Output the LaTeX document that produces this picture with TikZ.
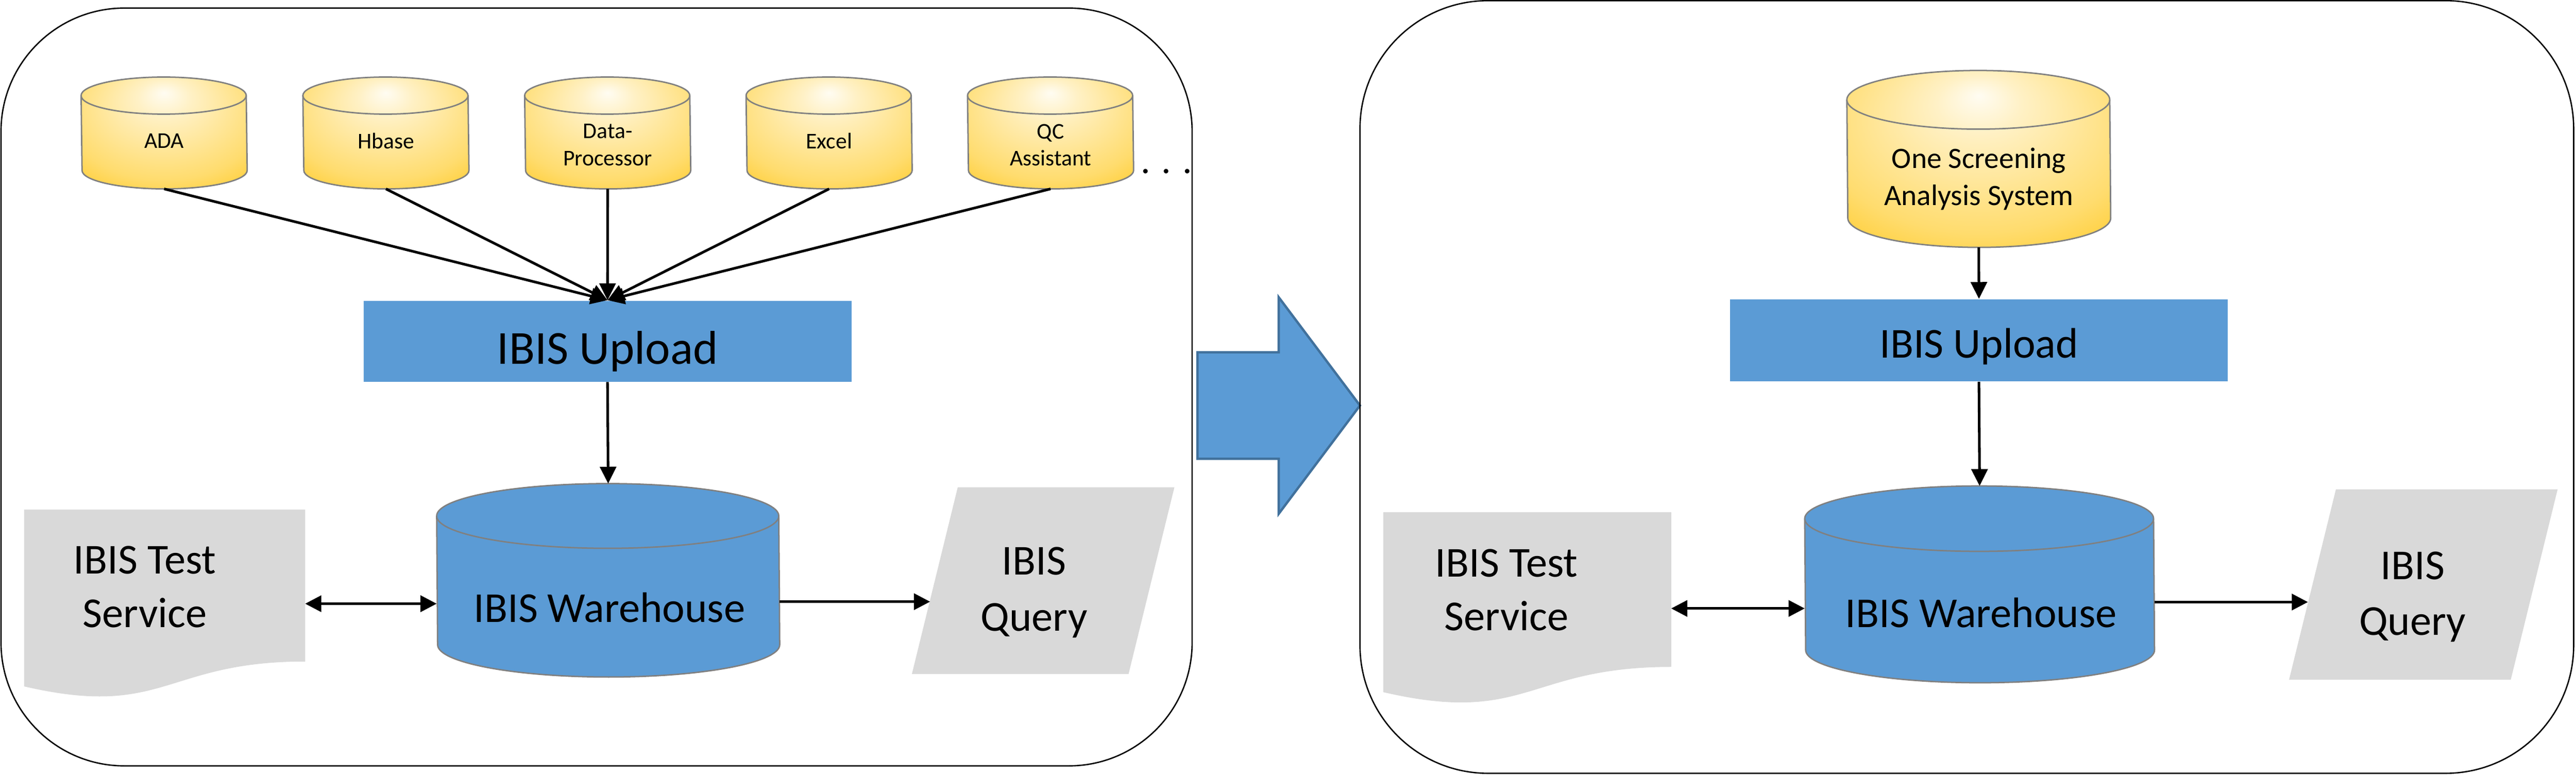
\documentclass[tikz,border=0pt]{standalone}
\usepackage{fontspec}
\setmainfont{Carlito}
\usetikzlibrary{calc}
\usetikzlibrary{shapes.geometric}
\usetikzlibrary{positioning}
\usetikzlibrary{arrows.meta}
\usetikzlibrary{backgrounds}

\definecolor{ibisblue}{HTML}{5B9BD5}
\definecolor{ibisedge}{HTML}{41719C}
\definecolor{docgray}{HTML}{D9D9D9}
\definecolor{cylrim}{HTML}{808080}
\definecolor{goldhi}{HTML}{FFFCF2}
\definecolor{goldpale}{HTML}{FFF1C6}
\definecolor{goldmid}{HTML}{FFDC6E}
\definecolor{goldlo}{HTML}{FFC000}
\pgfdeclareradialshading{cylglow}{\pgfpoint{0bp}{18bp}}{color(0bp)=(goldhi); color(8bp)=(goldpale); color(30bp)=(goldmid); color(48bp)=(goldlo); color(60bp)=(goldlo)}

% can drawn round a node: name, half width, end radius, paint
\newcommand{\cancyl}[4]{%
    \path [#4, draw=cylrim, line width=0.6pt] ($(#1.north west)+(0,-#3)$) arc[start angle=180, end angle=0, x radius=#2, y radius=#3]
        -- ($(#1.south east)+(0,#3)$) arc[start angle=0, end angle=-180, x radius=#2, y radius=#3] -- cycle;
    \draw [cylrim, line width=0.6pt] ($(#1.north west)+(0,-#3)$) arc[start angle=180, end angle=360, x radius=#2, y radius=#3];
}

\begin{document}
\begin{tikzpicture}[
    panel/.style={draw=black, line width=0.57pt},
    canbox/.style={rectangle, inner sep=0pt},
    srctext/.style={align=center, font=\fontsize{9.5}{11.4}\selectfont},
    bigtext/.style={align=center, font=\fontsize{18}{22.5}\selectfont},
    upload/.style={rectangle, fill=ibisblue, inner sep=0pt, text depth=0.2cm},
    feed/.style={-{Triangle[length=0.25cm, width=0.24cm]}, line width=1.1pt},
    link/.style={line width=1.1pt},
    bigtip/.tip={Triangle[length=0.24cm, width=0.24cm]}
]
    \useasboundingbox (0,0) rectangle (38.215,11.495);

    % Before: many sources
    \draw [panel, rounded corners=1.83cm] (0.015,0.135) rectangle (17.685,11.375);
    % - [Sources]
    \node at (2.435, 9.5225) [canbox, minimum width=2.45cm, minimum height=1.645cm](ada){};
    \node at (5.725, 9.5225) [canbox, minimum width=2.45cm, minimum height=1.645cm](hbase){};
    \node at (9.015, 9.5225) [canbox, minimum width=2.45cm, minimum height=1.645cm](dataproc){};
    \node at (12.30, 9.5225) [canbox, minimum width=2.45cm, minimum height=1.645cm](excel){};
    \node at (15.585, 9.5225) [canbox, minimum width=2.45cm, minimum height=1.645cm](qcassist){};
    \node at (2.435, 9.405) [srctext](adatxt){ADA};
    \node at (5.725, 9.405) [srctext](hbasetxt){Hbase};
    \node at (9.015, 9.345) [srctext](dataproctxt){Data-\\Processor};
    \node at (12.30, 9.405) [srctext](exceltxt){Excel};
    \node at (15.585, 9.345) [srctext](qcassisttxt){QC\\Assistant};
    \node at (17.305, 8.95) [font=\fontsize{16}{19}\selectfont](more){. . .};
    % - [Upload and warehouse]
    \node at (9.0125, 6.435) [upload, minimum width=7.235cm, minimum height=1.2cm, text height=0.88cm, font=\fontsize{20}{24}\selectfont](uploadL){IBIS Upload};
    \node at (9.0225, 2.8875) [canbox, minimum width=5.075cm, minimum height=2.855cm](whouseL){};
    \node at (9.04, 2.48) [bigtext](whouseLtxt){IBIS Warehouse};
    % -- Test service (document) and query
    \node at (2.4425, 2.81) [canbox, minimum width=4.155cm, minimum height=2.24cm](testL){};
    \node at (2.15, 2.79) [bigtext](testLtxt){IBIS Test\\Service};
    \node at (15.475, 2.8825) [canbox, minimum width=3.88cm, minimum height=2.755cm](queryL){};
    \node at (15.34, 2.707) [bigtext, font=\fontsize{18}{23.5}\selectfont](queryLtxt){IBIS\\Query};
    % -- Ports on the warehouse and query sides
    \coordinate (whouseLw) at ([yshift=-0.347cm]whouseL.west);
    \coordinate (whouseLe) at ([yshift=-0.317cm]whouseL.east);
    \coordinate (queryLin) at ([xshift=0.27cm]queryL.west);
    % -- Connections
    \draw [feed] (ada.south) -- (uploadL.north);
    \draw [feed] (hbase.south) -- (uploadL.north);
    \draw [feed] (dataproc.south) -- (uploadL.north);
    \draw [feed] (excel.south) -- (uploadL.north);
    \draw [feed] (qcassist.south) -- (uploadL.north);
    \draw [feed] (uploadL.south) -- (whouseL.north);
    \draw [link, bigtip-bigtip] (testL.east |- whouseLw) -- (whouseLw);
    \draw [link, -bigtip] (whouseLe) -- (whouseLe -| queryLin);

    % Transition arrow
    \draw [ibisedge, fill=ibisblue, line width=1pt] (17.765,6.27) -- (18.97,6.27) -- (18.97,7.085) -- (20.175,5.48) -- (18.97,3.875) -- (18.97,4.69) -- (17.765,4.69) -- cycle;

    % After: one system
    \draw [panel, rounded corners=1.9cm] (20.175,0.025) rectangle (38.18,11.485);
    \node at (29.355, 9.1375) [canbox, minimum width=3.9cm, minimum height=2.61cm](onescreen){};
    \node at (29.355, 8.84) [srctext, font=\fontsize{12.5}{15.7}\selectfont](onescreentxt){One Screening\\Analysis System};
    \node at (29.3575, 6.4475) [upload, minimum width=7.385cm, minimum height=1.215cm, text height=0.715cm, font=\fontsize{18}{22}\selectfont](uploadR){IBIS Upload};
    \node at (29.3675, 2.8275) [canbox, minimum width=5.175cm, minimum height=2.905cm](whouseR){};
    \node at (29.39, 2.41) [bigtext](whouseRtxt){IBIS Warehouse};
    \node at (22.6575, 2.75) [canbox, minimum width=4.255cm, minimum height=2.28cm](testR){};
    \node at (22.35, 2.745) [bigtext](testRtxt){IBIS Test\\Service};
    \node at (35.95, 2.825) [canbox, minimum width=3.97cm, minimum height=2.81cm](queryR){};
    \node at (35.79, 2.645) [bigtext, font=\fontsize{18}{23.5}\selectfont](queryRtxt){IBIS\\Query};
    % -- Ports on the warehouse and query sides
    \coordinate (whouseRw) at ([yshift=-0.3575cm]whouseR.west);
    \coordinate (whouseRe) at ([yshift=-0.2625cm]whouseR.east);
    \coordinate (queryRin) at ([xshift=0.28cm]queryR.west);
    % -- Connections
    \draw [feed] (onescreen.south) -- (uploadR.north);
    \draw [feed] (uploadR.south) -- (whouseR.north);
    \draw [link, bigtip-bigtip] (testR.east |- whouseRw) -- (whouseRw);
    \draw [link, -bigtip] (whouseRe) -- (whouseRe -| queryRin);

    % Shapes behind the texts
    \begin{scope}[on background layer]
        % - cans
        \cancyl{ada}{1.225}{0.275}{shade, shading=cylglow}
        \cancyl{hbase}{1.225}{0.275}{shade, shading=cylglow}
        \cancyl{dataproc}{1.225}{0.275}{shade, shading=cylglow}
        \cancyl{excel}{1.225}{0.275}{shade, shading=cylglow}
        \cancyl{qcassist}{1.225}{0.275}{shade, shading=cylglow}
        \cancyl{onescreen}{1.95}{0.435}{shade, shading=cylglow}
        \cancyl{whouseL}{2.5375}{0.48}{fill=ibisblue}
        \cancyl{whouseR}{2.5875}{0.485}{fill=ibisblue}
        % - documents
        \fill [docgray] (testL.north west) -- (testL.north east) -- (testL.south east) .. controls (testL.south) and ($(testL.south)+(0,-0.853)$) .. ($(testL.south west)+(0,-0.369)$) -- cycle;
        \fill [docgray] (testR.north west) -- (testR.north east) -- (testR.south east) .. controls (testR.south) and ($(testR.south)+(0,-0.869)$) .. ($(testR.south west)+(0,-0.375)$) -- cycle;
        % - queries
        \fill [docgray] ([xshift=0.68cm]queryL.north west) -- (queryL.north east) -- ([xshift=-0.68cm]queryL.south east) -- (queryL.south west) -- cycle;
        \fill [docgray] ([xshift=0.695cm]queryR.north west) -- (queryR.north east) -- ([xshift=-0.695cm]queryR.south east) -- (queryR.south west) -- cycle;
    \end{scope}
\end{tikzpicture}
\end{document}
